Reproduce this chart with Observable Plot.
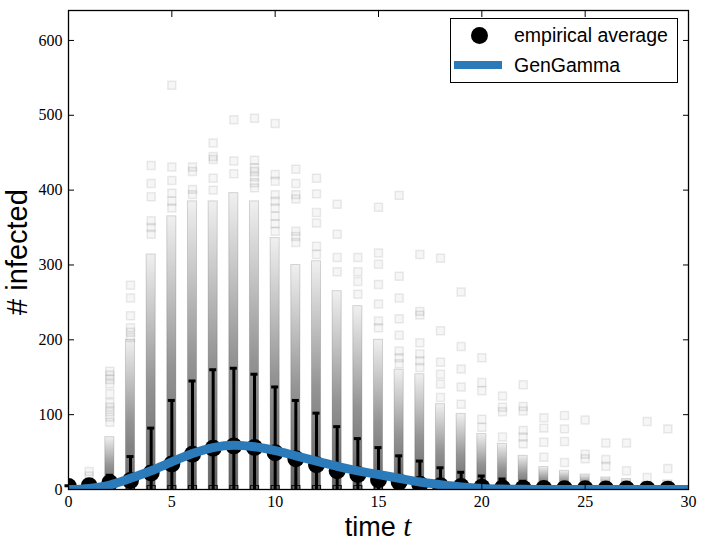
<!DOCTYPE html>
<html><head><meta charset="utf-8">
<script src="https://cdn.jsdelivr.net/npm/d3@7"></script>
<script src="https://cdn.jsdelivr.net/npm/@observablehq/plot@0.6"></script>
<style>
html,body{margin:0;padding:0;background:#fff;overflow:hidden;}
#wrap{position:relative;width:706px;height:548px;}
#legend{position:absolute;left:450px;top:18px;width:226px;height:63px;border:1.5px solid #000;background:#fff;font-family:"Liberation Sans",Arial,sans-serif;font-size:19.5px;color:#000;}
#legend .txt{position:absolute;left:63px;line-height:22px;white-space:nowrap;}
#legend .dot{position:absolute;left:20px;top:8px;width:17px;height:17px;border-radius:50%;background:#000;}
#legend .ln{position:absolute;left:3px;top:42px;width:48px;height:8px;background:#2b7bba;}
</style>
</head><body>
<div id="wrap">
  <div id="legend">
    <div class="dot"></div><div class="txt" style="top:5px">empirical average</div>
    <div class="ln"></div><div class="txt" style="top:35px">GenGamma</div>
  </div>
</div>
<script>
// time steps
const T = [0,1,2,3,4,5,6,7,8,9,10,11,12,13,14,15,16,17,18,19,20,21,22,23,24,25,26,27,28,29];
// empirical average (black circles)
const meanInfected = [4,5,9,12,22,34,47,55,58,56,49,41,33,25,20,13,10,7,5,4,3,2,1.5,1.2,1,1,0.8,0.6,0.5,0.5];
// upper end of error bars
const upperInfected = [5,7,19,44,82,119,145,160,162,154,137,119,102,84,68,56,45,38,29,23,18,14,11,9,8,8,7,7,6,6];
// top of the dense cloud of simulation runs
const bandTop = [4,10,70,200,314,365,385,385,396,385,336,300,305,265,245,200,160,154,114,101,74,61,45,30,25,20,16,14,10,12];
// sparser individual runs above the dense cloud
const outliers = [
  [],
  [18,24],
  [90,97,104,110,116,128,141,147,153,158],
  [203,210,216,232,256,273],
  [341,350,359,391,409,433],
  [376,385,396,413,431,540],
  [394,401,425,431],
  [400,416,441,445,463],
  [422,439,494],
  [403,410,418,425,430,440,496],
  [345,355,365,376,385,394,412,421,489],
  [330,338,345,388,394,409,428],
  [314,325,356,370,395,416],
  [291,310,341,381],
  [261,278,291,310],
  [216,225,248,274,301,316,377],
  [168,176,185,206,228,256,285,393],
  [163,172,181,196,233,238,314],
  [123,141,154,170,212,309],
  [114,137,161,191,264],
  [83,94,132,143,176],
  [70,104,110,125],
  [61,70,79,105,111,140],
  [43,63,82,96],
  [36,64,81,99],
  [41,47,93],
  [31,40,62],
  [25,62],
  [16,91],
  [28,81]
];
// fitted GenGamma curve
const curveT = [0,1,2,3,4,5,6,7,8,9,10,11,12,13,14,15,16,17,18,19,20,21,22,23,24,25,26,27,28,29,30];
const genGamma = [0,1.5,6,15,25,37,48,56,59,57,52,45,38,31,25,20,15,10,6.5,3.5,1.5,0.6,0.2,0,0,0,0,0,0,0,0];
const xTicks = [0,5,10,15,20,25,30];
const yTicks = [0,100,200,300,400,500,600];

const stats = T.map((t,i)=>({t, mean: meanInfected[i], upper: upperInfected[i], lower: 2*meanInfected[i]-upperInfected[i], top: bandTop[i]}));
const scatter = T.flatMap((t,i)=>outliers[i].map(v=>({t, v})));
const curve = curveT.map((t,i)=>({t, v: genGamma[i]}));

const chart = Plot.plot({
  width: 706, height: 548,
  marginLeft: 68, marginRight: 18, marginTop: 10, marginBottom: 59,
  x: {domain: [0,30]},
  y: {domain: [0,640]},
  style: {fontFamily: "'Liberation Serif', serif", fontSize: "16px", color: "#000", background: "#fff", overflow: "visible"},
  marks: [
    Plot.rect(stats, {x1: d=>d.t-0.22, x2: d=>d.t+0.22, y1: 0, y2: "top", fill: "url(#band)", stroke: "#000", strokeOpacity: 0.15, clip: true}),
    Plot.dot(scatter, {x: "t", y: "v", symbol: "square", r: 4.5, fill: "#000", fillOpacity: 0.035, stroke: "#000", strokeOpacity: 0.08}),
    Plot.dot(stats, {x: "t", y: d=>0, symbol: "square", r: 4.5, fill: "#666", stroke: "#111", strokeWidth: 1.2, clip: true}),
    Plot.ruleX(stats, {x: "t", y1: "lower", y2: "upper", stroke: "#000", strokeWidth: 3, clip: true}),
    Plot.ruleY(stats, {y: "upper", x1: d=>d.t-0.17, x2: d=>d.t+0.17, stroke: "#000", strokeWidth: 3}),
    Plot.dot(stats, {x: "t", y: "mean", r: 8.5, fill: "#000", clip: true}),
    Plot.line(curve, {x: "t", y: "v", stroke: "#2b7bba", strokeWidth: 9, curve: "monotone-x", clip: true}),
    Plot.frame({stroke: "#000", strokeWidth: 1.3}),
    Plot.axisX({anchor: "bottom", ticks: xTicks, tickSize: -6, tickPadding: 12, tickFormat: d=>String(d), label: null}),
    Plot.axisX({anchor: "top", ticks: xTicks, tickSize: -6, tickFormat: ()=>"", label: null}),
    Plot.axisY({anchor: "left", ticks: yTicks, tickSize: -6, tickPadding: 12, tickFormat: d=>String(d), label: null}),
    Plot.axisY({anchor: "right", ticks: yTicks, tickSize: -6, tickFormat: ()=>"", label: null})
  ]
});

const svg = d3.select(chart);
const grad = svg.insert("defs", ":first-child").append("linearGradient")
  .attr("id", "band").attr("x1", 0).attr("y1", 0).attr("x2", 0).attr("y2", 1);
[[0, 0.06], [0.25, 0.22], [0.55, 0.42], [1, 0.6]].forEach(([o, a]) =>
  grad.append("stop").attr("offset", o).attr("stop-color", "#000").attr("stop-opacity", a));

svg.append("text")
  .attr("transform", "translate(27,252) rotate(-90)")
  .attr("text-anchor", "middle")
  .style("font-family", "'Liberation Sans', Arial, sans-serif")
  .style("font-size", "29px")
  .text("# infected");
const xl = svg.append("text")
  .attr("x", 378).attr("y", 536)
  .attr("text-anchor", "middle")
  .style("font-family", "'Liberation Sans', Arial, sans-serif")
  .style("font-size", "27px");
xl.append("tspan").text("time ");
xl.append("tspan").style("font-family", "'Liberation Serif', serif").style("font-style", "italic").style("font-size", "29px").text("t");

document.getElementById("wrap").insertBefore(chart, document.getElementById("legend"));
</script>
</body></html>
